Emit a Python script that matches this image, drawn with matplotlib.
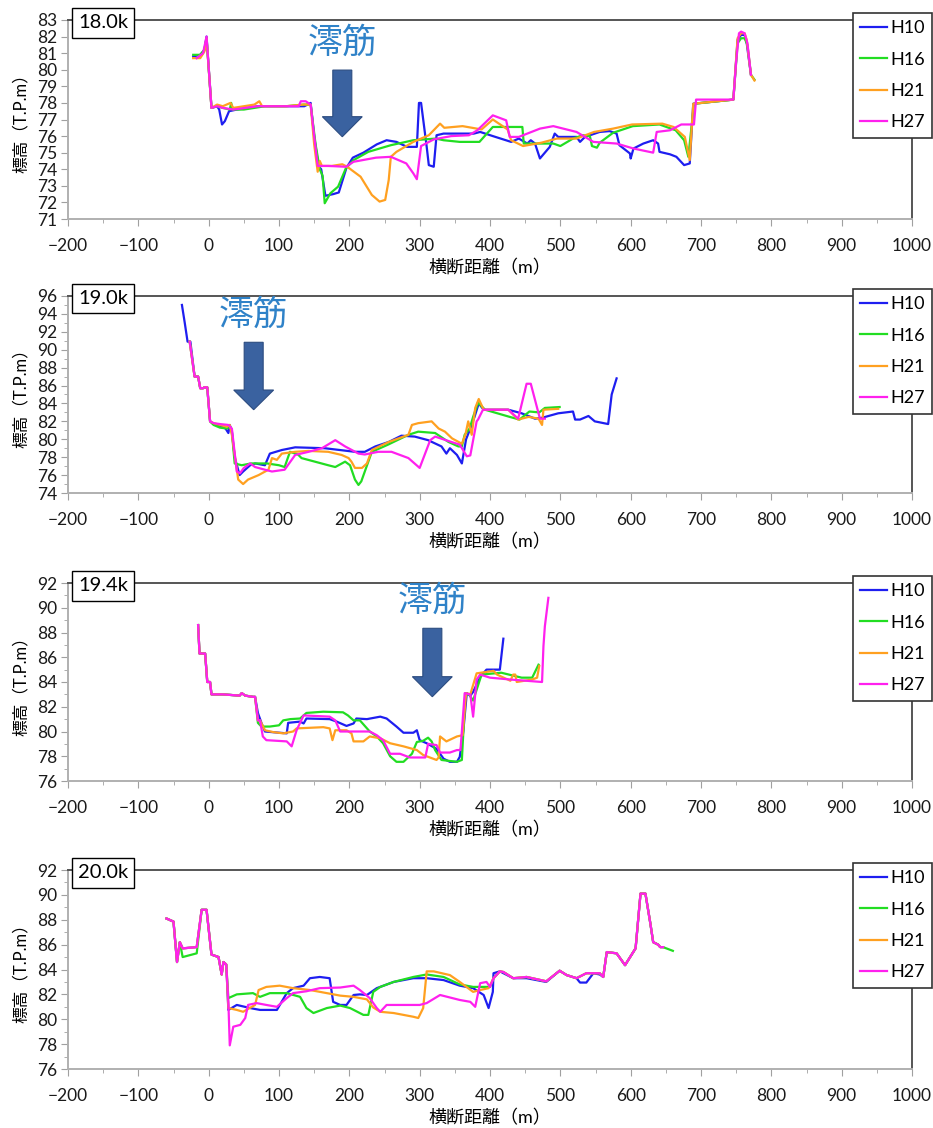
import matplotlib
matplotlib.use("Agg")
import matplotlib.pyplot as plt
from matplotlib.patches import FancyArrow
from matplotlib.ticker import MultipleLocator

plt.rcParams['font.family'] = ['Lato', 'Noto Sans CJK JP']

# series names and colours
years = ['H10', 'H16', 'H21', 'H27']
colors = ['#1e1ef0', '#22dd22', '#ffa020', '#ff20ee']

# ---- 18.0k ----
p18_h10 = [(-22,80.8),(-12,80.9),(-6,81.2),(-3,82.0),(4,77.7),(12,77.8),(15,77.6),(19,76.7),(23,76.9),(29,77.5),
           (40,77.6),(70,77.8),(110,77.8),(136,77.8),(145,78.0),(150,76.0),(156,74.2),(160,74.0),(163,73.2),(166,72.4),
           (177,72.5),(185,72.6),(196,74.1),(205,74.7),(220,75.0),(239,75.5),(253,75.75),(267,75.65),(282,75.35),
           (296,75.35),(299,78.0),(302,78.0),(310,75.35),(313,74.25),(320,74.15),(324,76.05),(334,76.15),(377,76.15),
           (386,76.25),(404,76.0),(430,75.65),(441,75.85),(453,75.55),(458,75.75),(464,75.55),(471,74.65),(485,75.35),
           (492,76.15),(497,75.95),(523,75.95),(528,75.65),(535,75.95),(556,76.25),(570,76.3),(580,76.15),(584,75.45),
           (599,74.95),(600,74.65),(604,75.25),(618,75.55),(632,75.75),(639,75.55),(641,75.05),(656,74.9),(665,74.75),
           (676,74.25),(684,74.35),(689,77.95),(746,78.2),(752,81.8),(757,82.1),(762,82.1),(765,81.6),(771,79.7)]
p18_h16 = [(-22,80.9),(-12,80.9),(-6,81.2),(-3,81.9),(4,77.7),(12,77.8),(20,77.7),(30,77.6),(32,78.0),(34,77.6),
           (50,77.6),(80,77.8),(110,77.8),(135,77.9),(145,77.9),(152,75.5),(158,74.0),(162,73.6),(165,71.95),
           (173,72.55),(184,72.95),(195,74.05),(206,74.55),(227,75.05),(259,75.45),(291,75.75),(323,75.85),
           (334,75.75),(357,75.65),(385,75.65),(404,76.55),(446,76.55),(448,75.55),(490,75.55),(500,75.4),(518,75.85),
           (532,76.05),(542,76.0),(545,75.4),(552,75.3),(556,75.6),(575,76.2),(603,76.6),(641,76.7),(664,76.35),
           (676,75.75),(682,74.75),(690,77.95),(746,78.2),(752,81.6),(757,81.9),(762,81.9),(766,81.5),(771,79.7),(776,79.4)]
p18_h21 = [(-22,80.7),(-12,80.7),(-6,81.1),(-3,81.9),(4,77.7),(12,77.9),(20,77.8),(31,78.0),(35,77.7),(50,77.8),
           (65,77.9),(72,78.1),(76,77.8),(110,77.8),(135,77.9),(145,77.9),(150,75.5),(155,73.85),(158,74.5),(161,74.2),
           (175,74.2),(190,74.3),(197,74.15),(216,73.55),(232,72.45),(243,72.05),(251,72.15),(256,73.35),(259,74.75),
           (267,75.05),(291,75.65),(313,76.05),(329,76.75),(335,76.5),(361,76.6),(388,76.4),(404,77.0),(425,76.4),
           (430,75.75),(447,75.4),(473,75.6),(495,75.85),(523,75.85),(548,76.25),(575,76.45),(602,76.7),(645,76.75),
           (661,76.55),(677,75.95),(684,74.55),(689,77.95),(746,78.2),(752,81.9),(757,82.2),(762,82.2),(765,81.8),
           (771,79.7),(776,79.35)]
p18_h27 = [(-17,80.7),(-8,81.0),(-3,82.0),(4,77.7),(12,77.8),(20,77.7),(35,77.6),(70,77.8),(110,77.8),(128,77.8),
           (131,78.1),(138,78.1),(145,77.9),(150,76.0),(155,74.2),(170,74.2),(195,74.15),(206,74.45),(238,74.7),
           (259,74.75),(281,74.35),(291,73.75),(296,73.4),(302,75.4),(320,75.8),(345,76.0),(370,76.05),(382,76.35),
           (404,77.25),(423,76.95),(428,75.95),(441,75.95),(471,76.45),(490,76.6),(523,76.25),(547,75.65),(580,75.55),
           (604,75.25),(632,75.0),(637,76.25),(656,76.35),(672,76.7),(690,76.7),(693,78.2),(746,78.2),(750,80.5),
           (754,82.2),(757,82.3),(762,82.2),(766,81.6),(771,79.7)]

# ---- 19.0k ----
p19_top = [(-20,87.0),(-15,87.0),(-12,85.7),(-8,85.7),(-6,85.8),(-2,85.8),(2,82.0)]
p19_h10 = [(-38,95.0),(-34,93.0),(-30,90.9),(-26,90.9)] + p19_top + [
           (7,81.7),(16,81.5),(24,81.2),(28,80.7),(30,81.6),(33,80.9),(37,78.0),(44,76.0),(49,76.4),(59,77.1),
           (66,77.3),(80,77.1),(87,78.4),(104,78.8),(123,79.1),(165,79.0),(208,78.6),(222,78.6),(237,79.2),(256,79.7),
           (274,80.4),(293,80.3),(312,79.9),(331,79.2),(338,78.4),(343,79.0),(353,78.25),(360,77.3),(366,80.0),
           (371,81.0),(378,82.5),(384,84.0),(391,83.3),(426,83.3),(445,82.9),(464,82.3),(474,82.4),(497,82.9),
           (518,83.1),(521,82.2),(528,82.2),(540,82.6),(549,82.0),(568,81.7),(573,85.0),(580,86.8)]
p19_h16 = [(-27,90.9)] + p19_top + [
           (7,81.6),(16,81.3),(26,81.2),(30,81.5),(33,80.8),(37,77.3),(47,77.1),(60,77.3),(83,77.3),(100,77.1),
           (108,76.9),(115.6,78.6),(127,78.3),(132,77.9),(170,77.1),(180,76.9),(194,77.5),(201,77.1),(208,75.5),
           (213,74.9),(217,75.3),(227,77.5),(232,78.6),(255,79.4),(284,80.5),(298,80.85),(322,80.7),(341,79.7),
           (355,79.2),(360,79.2),(364,80.5),(371,81.2),(376,82.5),(383,84.1),(393,83.3),(428,82.5),(442,82.2),
           (456,83.1),(470,83.0),(478,83.5),(499,83.6)]
p19_h21 = [(-27,90.9)] + p19_top + [
           (7,81.8),(16,81.6),(26,81.4),(30,81.6),(33,80.5),(42,75.5),(49,75.0),(56,75.5),(71,76.0),(85,76.6),
           (90,77.9),(97,77.7),(104,78.4),(123,78.6),(142,78.7),(170,78.6),(189,78.25),(199,77.9),(203,77.5),
           (208,76.8),(218,76.8),(225,77.3),(232,78.8),(256,79.7),(284,80.5),(289,81.6),(298,81.8),(317,82.0),
           (327,81.2),(336,80.85),(346,80.1),(360,79.5),(365,80.5),(369,82.0),(374,80.5),(379,83.5),(384,84.5),
           (391,83.3),(426,83.3),(440,82.2),(455,82.5),(469,82.3),(474,81.6),(476,83.3),(497,83.4)]
p19_h27 = [(-27,90.9)] + p19_top + [
           (7,81.8),(16,81.7),(28,81.6),(33,81.2),(40,76.4),(44.5,76.2),(50,76.8),(59,77.3),(66,76.9),(80,76.6),
           (90,76.4),(108,76.6),(123,78.25),(142,78.6),(161,79.0),(180,79.9),(194,79.2),(213,78.4),(222,78.3),
           (241,78.6),(260,78.6),(284,77.9),(300,76.8),(315,79.9),(322,80.3),(345,79.7),(357,79.4),(367,78.1),
           (372,78.2),(381,82.0),(383,82.2),(390,83.3),(426,83.3),(440,82.3),(452,86.2),(458,86.2),(471,82.3),(478,82.3)]

# ---- 19.4k ----
p194_top = [(-15,88.6),(-13,86.3),(-5,86.3),(-2,84.0),(2,84.0),(4,83.0),(20,83.0),(44,82.9),(47,83.1),(52,82.9),
            (63,82.8),(66,82.8)]
p194_h10 = p194_top + [
           (70,81.5),(75,80.7),(80,80.0),(111,79.85),(113,80.7),(130,80.8),(135,80.65),(139,81.05),(172,81.0),
           (182,80.8),(196,80.45),(206,80.65),(210,81.05),(225,81.0),(244,81.2),(253,81.05),(267,80.4),(277,79.9),
           (291,79.9),(296,80.1),(300,79.3),(310,79.05),(324,78.6),(334,77.8),(343,77.55),(353,77.55),(357,77.95),
           (362,80.0),(367,83.1),(372,82.9),(376,83.2),(386,84.4),(395,85.0),(414,85.0),(416,86.0),(419,87.5)]
p194_h16 = p194_top + [
           (70,80.7),(75,80.4),(87,80.4),(100,80.5),(106,80.9),(116,81.0),(130,81.05),(139,81.5),(163,81.6),
           (191,81.55),(198,81.3),(206,80.9),(215,80.9),(229,80.0),(239,79.6),(248,79.05),(258,78.0),(267,77.55),
           (277,77.55),(289,78.2),(296,79.15),(305,79.25),(312,79.5),(317,79.2),(322,78.5),(331,77.7),(353,77.55),
           (360,77.7),(365,83.1),(370,83.0),(376,82.5),(388,84.6),(416,84.75),(445,84.35),(460,84.35),(469,85.4)]
p194_h21 = p194_top + [
           (70,80.9),(73,80.9),(80,80.1),(92,79.95),(106,79.85),(120,80.0),(125,80.25),(163,80.35),(172,80.25),
           (176,79.3),(180,80.1),(196,80.1),(203,79.85),(206,79.2),(220,79.2),(229,79.6),(244,79.45),(258,79.05),
           (277,78.8),(296,78.5),(305,78.1),(324,77.7),(327,77.9),(329,79.6),(338,79.2),(353,79.6),(361,79.7),
           (366,83.1),(372,83.0),(381,84.7),(405,84.9),(410,84.6),(429,84.1),(433,84.6),(436,84.6),(438,84.0),
           (460,84.2),(467,84.35),(470,85.3)]
p194_h27 = p194_top + [
           (70,80.9),(73,80.9),(77,79.6),(82,79.3),(111,79.2),(118,78.8),(125,80.1),(135,81.3),(172,81.2),
           (180,80.9),(187,80.0),(229,80.0),(239,79.7),(248,79.3),(258,78.2),(272,78.2),(286,77.9),(308,77.9),
           (312,79.0),(324,78.9),(329,78.3),(343,78.3),(353,78.5),(358,78.5),(364,83.1),(372,83.0),(376,81.2),
           (381,84.2),(386,84.6),(400,84.35),(429,84.2),(474,84.0),(476,86.9),(478,88.5),(483,90.8)]

# ---- 20.0k ----
p20_left = [(-60,88.1),(-50,87.85),(-45,84.6),(-41,86.2),(-37,85.7),(-17,85.8),(-10,88.8),(-3,88.8),(4,85.2),
            (14,85.0),(18.5,83.6),(21,84.6),(25,84.4)]
p20_left_g = [(-60,88.1),(-50,87.85),(-45,84.6),(-41,86.2),(-37,85.0),(-17,85.3),(-10,88.8),(-3,88.8),(4,85.2),
              (14,85.0),(18.5,83.6),(21,84.6),(25,84.4)]
p20_right = [(405,83.3),(414,83.85),(419,83.8),(433,83.3),(452,83.4),(480,83.05),(499,83.9),(509,83.55),(523,83.3),
             (537,83.7),(556,83.7),(561,83.4),(566,85.4),(580,85.3),(592,84.35),(607,85.7),(614,90.1),(621,90.1),
             (628,87.7),(632,86.2),(639,86.0),(642,85.8),(646,85.8)]
p20_h10 = p20_left + [
           (28,80.75),(40,81.15),(59,80.9),(73,80.75),(97,80.75),(111,82.1),(120,82.5),(135,82.7),(144,83.3),
           (158,83.4),(172,83.3),(177,81.4),(187,81.15),(196,81.15),(206,81.95),(215,82.0),(225,81.95),(239,82.5),
           (263,83.0),(291,83.3),(310,83.3),(334,83.15),(357,82.7),(376,82.5),(391,81.95),(398,80.9),(404,82.2),
           (405,83.7),(414,83.85),(433,83.3),(452,83.3),(480,83.0),(499,83.9),(509,83.55),(523,83.3),(528,82.95),
           (537,82.95),(547,83.7),(556,83.6),(561,83.4),(566,85.4),(580,85.3),(592,84.35),(607,85.7),(614,90.1),
           (621,90.1),(628,87.7),(632,86.2),(639,86.0),(642,85.8),(646,85.8)]
p20_h16 = p20_left_g + [
           (28,81.7),(40,82.0),(63,82.1),(73,81.8),(87,82.1),(111,82.1),(130,81.8),(139,80.9),(149,80.5),(168,80.9),
           (187,81.1),(201,80.9),(220,80.35),(227,80.35),(234,82.2),(244,82.6),(263,83.0),(291,83.4),(310,83.6),
           (334,83.4),(357,82.8),(376,82.6),(400,82.6)] + p20_right + [(660,85.5)]
p20_h21 = p20_left + [
           (28,80.9),(40,80.75),(49,80.6),(66,81.15),(71,82.35),(82,82.6),(101,82.7),(120,82.5),(144,82.35),
           (168,82.1),(187,81.9),(206,81.8),(225,81.6),(234,80.95),(244,80.6),(263,80.5),(291,80.2),(298,80.1),
           (305,80.9),(310,83.85),(320,83.85),(343,83.55),(357,83.0),(376,82.2),(386,82.35),(398,82.5)] + p20_right
p20_h27 = p20_left + [
           (28,81.4),(30,77.9),(35,79.4),(45,79.55),(52,80.1),(56,81.15),(68,81.3),(82,81.15),(97,81.0),(111,81.7),
           (120,82.1),(139,82.25),(158,82.5),(187,82.55),(206,82.7),(215,82.35),(229,81.7),(239,80.9),(244,80.6),
           (253,81.15),(272,81.15),(300,81.15),(310,81.3),(329,81.95),(357,81.55),(372,81.4),(379,81.0),(386,82.9),
           (395,83.0),(400,82.6)] + p20_right

names = ['18.0k', '19.0k', '19.4k', '20.0k']
ylims = [(71, 83), (74, 96), (76, 92), (76, 92)]
ysteps = [1, 2, 2, 2]
series = [[p18_h10, p18_h16, p18_h21, p18_h27],
          [p19_h10, p19_h16, p19_h21, p19_h27],
          [p194_h10, p194_h16, p194_h21, p194_h27],
          [p20_h10, p20_h16, p20_h21, p20_h27]]
# 澪筋 annotation: label x, label y, arrow top, head start, tip
thalweg = [(190, 81.6, 79.98, 77.17, 75.96),
           (64, 93.9, 90.83, 85.5, 83.3),
           (318, 90.5, 88.34, 84.43, 82.81),
           None]

W, H = 933, 1128
frames = [(20, 219), (296, 493), (583, 781), (870, 1069)]

fig = plt.figure(figsize=(W / 100, H / 100), dpi=100)
for i in range(4):
    top, bot = frames[i]
    ax = fig.add_axes([68 / W, 1 - bot / H, 844 / W, (bot - top) / H])
    for name, pts, c in zip(years, series[i], colors):
        xs = [p[0] for p in pts]
        ys = [p[1] for p in pts]
        ax.plot(xs, ys, color=c, lw=1.6, label=name)
    ax.set_xlim(-200, 1000)
    ax.set_ylim(*ylims[i])
    ax.xaxis.set_major_locator(MultipleLocator(100))
    ax.xaxis.set_minor_locator(MultipleLocator(50))
    ax.yaxis.set_major_locator(MultipleLocator(ysteps[i]))
    if ysteps[i] > 1:
        ax.yaxis.set_minor_locator(MultipleLocator(1))
    ax.tick_params(which='major', length=5, color='#a0a0a0', labelsize=12.5, labelcolor='#1a1a1a')
    ax.tick_params(which='minor', length=3, color='#a0a0a0')
    ax.tick_params(axis='x', pad=9)
    ax.tick_params(axis='y', pad=3)
    for s in ['top', 'right']:
        ax.spines[s].set_color('#555555')
        ax.spines[s].set_linewidth(1.4)
    for s in ['left', 'bottom']:
        ax.spines[s].set_color('#b0b0b0')
        ax.spines[s].set_linewidth(1.4)
    ax.set_xlabel('横断距離（m）', fontsize=13, labelpad=3)
    ax.text(-0.0557, 0.5, '標高（T.P.m）', transform=ax.transAxes, rotation=90,
            ha='center', va='center', fontsize=12)
    ax.text(0.0415, 0.985, names[i], transform=ax.transAxes, ha='center', va='center',
            fontsize=14.5, zorder=6, clip_on=False,
            bbox=dict(boxstyle='square,pad=0.3', fc='white', ec='black', lw=1))
    leg = ax.legend(loc='upper right', bbox_to_anchor=(1.0237, 1.035), borderaxespad=0,
                    fontsize=13, fancybox=False, edgecolor='#333333', framealpha=1,
                    handlelength=1.5, handletextpad=0.15, labelspacing=0.85, borderpad=0.4)
    leg.get_frame().set_linewidth(1.2)
    leg.set_zorder(7)
    if thalweg[i] is not None:
        tx, ty, a_top, a_head, a_tip = thalweg[i]
        ax.text(tx, ty, '澪筋', ha='center', va='center', fontsize=25, color='#2f82c8',
                family=['Noto Sans CJK JP'])
        xw = 27.0
        ax.add_patch(FancyArrow(tx, a_top, 0, a_tip - a_top, width=xw, head_width=2.1 * xw,
                                head_length=a_head - a_tip, length_includes_head=True,
                                fc='#3a62a0', ec='#2c4c80', lw=0.8, zorder=5))

fig.savefig('out.png', dpi=100)
